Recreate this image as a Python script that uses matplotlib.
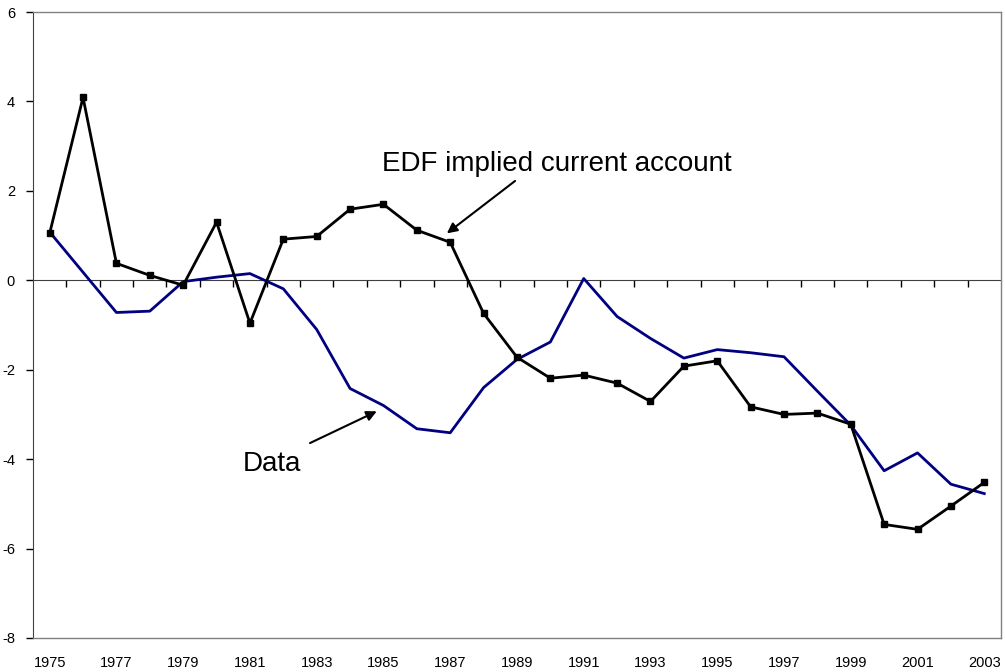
import matplotlib.pyplot as plt
import numpy as np

# years and series
years = list(range(1975, 2004))
edf = [1.05, 4.09, 0.38, 0.11, -0.11, 1.30, -0.96, 0.92, 0.98, 1.59,
       1.70, 1.12, 0.85, -0.74, -1.72, -2.19, -2.12, -2.30, -2.71, -1.92,
       -1.80, -2.83, -3.00, -2.97, -3.22, -5.46, -5.57, -5.05, -4.52]
data = [1.08, 0.18, -0.72, -0.69, -0.03, 0.07, 0.15, -0.19, -1.10, -2.42,
        -2.80, -3.32, -3.41, -2.40, -1.77, -1.38, 0.04, -0.81, -1.30, -1.74,
        -1.55, -1.62, -1.71, -2.48, -3.24, -4.26, -3.86, -4.56, -4.77]
y_ticks = [-8, -6, -4, -2, 0, 2, 4, 6]
x_labels = years[::2]

fig = plt.figure(figsize=(10.05, 6.72), dpi=100)
ax = fig.add_axes([0.0328, 0.0506, 0.9632, 0.9315])

ax.plot(years, data, color='#000080', lw=2.0, zorder=3)
ax.plot(years, edf, color='black', lw=2.0, marker='s', markersize=5, zorder=4)

ax.set_xlim(years[0] - 0.5, years[-1] + 0.5)
ax.set_ylim(y_ticks[0], y_ticks[-1])
ax.set_yticks(y_ticks)
ax.set_yticklabels([str(v) for v in y_ticks], fontsize=10.5,
                   family=['Liberation Sans', 'DejaVu Sans'])
ax.tick_params(axis='y', direction='out', length=5, width=1, pad=8)
ax.set_xticks(x_labels)
ax.set_xticklabels([str(v) for v in x_labels], fontsize=10.5,
                   family=['Liberation Sans', 'DejaVu Sans'])
ax.tick_params(axis='x', length=0, pad=13)

for s in ['top', 'right', 'bottom']:
    ax.spines[s].set_color('#808080')
    ax.spines[s].set_linewidth(1)
ax.spines['left'].set_color('#404040')

# zero axis with category tick marks
zero = ax.secondary_xaxis((0 - y_ticks[0]) / (y_ticks[-1] - y_ticks[0]))
zero.set_xticks(np.arange(years[0] + 0.5, years[-1] + 0.5, 1))
zero.set_xticklabels([])
zero.tick_params(direction='in', length=5, width=1, color='black')
zero.spines['bottom'].set_color('#404040')
zero.spines['top'].set_color('#404040')

# annotations
ax.annotate('EDF implied current account', xy=(1986.9, 1.05), xytext=(1990.2, 2.6),
            fontsize=20, family=['Liberation Sans', 'DejaVu Sans'],
            ha='center', va='center',
            arrowprops=dict(arrowstyle='-|>', color='black', lw=1.5,
                            mutation_scale=15, shrinkA=0, shrinkB=0,
                            relpos=(0.38, -0.15)))
ax.annotate('', xy=(1984.8, -2.93), xytext=(1982.8, -3.64),
            arrowprops=dict(arrowstyle='-|>', color='black', lw=1.5,
                            mutation_scale=15, shrinkA=0, shrinkB=0))
ax.text(1981.65, -4.1, 'Data', fontsize=20, family=['Liberation Sans', 'DejaVu Sans'],
        ha='center', va='center')

fig.savefig('out.png', dpi=100)
